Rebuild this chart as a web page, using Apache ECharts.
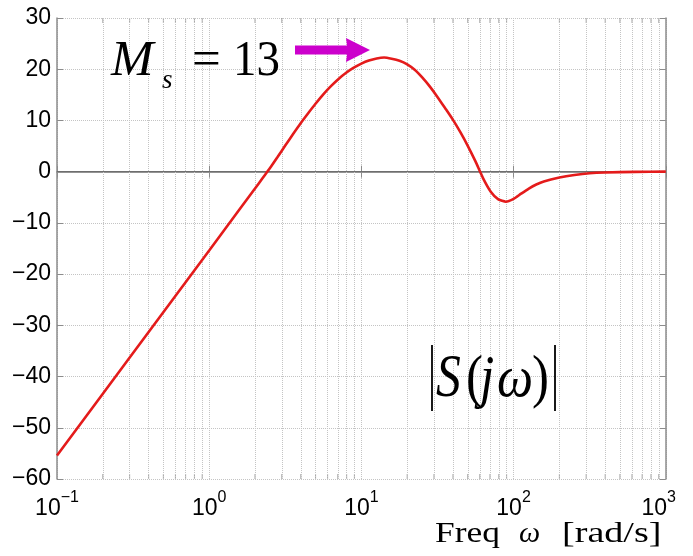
<!DOCTYPE html>
<html>
<head>
<meta charset="utf-8">
<script src="https://cdn.jsdelivr.net/npm/echarts@6/dist/echarts.min.js"></script>
<style>
  html, body { margin: 0; padding: 0; background: #ffffff; }
  #chart { width: 693px; height: 556px; }
</style>
</head>
<body>
<div id="chart"></div>
<script>
// Sensitivity function magnitude |S(jω)| in dB against frequency ω (rad/s)
const omega = [0.1, 0.316, 1, 1.58, 2.00, 2.24, 2.51, 2.82, 3.16, 3.55, 3.98, 4.47, 5.01, 5.62, 6.31, 7.08,
               7.94, 8.91, 10, 11.2, 12.6, 14.1, 15.8, 17.8, 20.0, 22.4, 25.1, 28.2, 31.6, 35.5, 39.8,
               44.7, 50.1, 56.2, 63.1, 70.8, 79.4, 89.1, 100, 112, 126, 141, 158, 200, 251, 316, 398,
               631, 1000];
const magDb = [-55.4, -35.4, -15.4, -7.4, -3.3, -1.3, 0.7, 2.9, 5.1, 7.3, 9.4, 11.4, 13.3, 15.1, 16.7, 18.1,
               19.3, 20.3, 21.1, 21.7, 22.1, 22.28, 22.05, 21.65, 20.95, 19.9, 18.4, 16.6, 14.6, 12.4, 10.2,
               7.7, 5.0, 2.0, -1.3, -3.9, -5.4, -5.86, -5.3, -4.3, -3.3, -2.5, -1.9, -1.15, -0.65, -0.3, -0.15,
               -0.05, 0.0];

const xMajorTicks = [0.1, 1, 10, 100, 1000];
const yMin = -60, yMax = 30, yStep = 10;
const peakLinear = 13;           // M_s, peak of |S| as a plain ratio (20·log10(13) ≈ 22.28 dB)

// minor log-grid positions: 2..9 within every decade
const minorFreqs = [];
for (let d = 0; d < xMajorTicks.length - 1; d++) {
  for (let k = 2; k <= 9; k++) minorFreqs.push(+(k * xMajorTicks[d]).toPrecision(3));
}

const frameColor = '#8c8c8c';
const gridColor = '#c4c4c4';
const tickFont = 'Liberation Sans';
const mathFont = 'Liberation Serif';

const chart = echarts.init(document.getElementById('chart'), null, { renderer: 'canvas' });

function expLabel(v) {
  const e = Math.round(Math.log10(v));
  const expText = e < 0 ? '\u2212' + (-e) : String(e);
  // the last decade label is nudged inward so it stays on the canvas
  return '{b|10}{' + (v >= 1000 ? 'eLast' : 'e') + '|' + expText + '}';
}

// text placed by its top edge
function txt(x, y, str, font, extra) {
  return Object.assign({
    type: 'text', x: x, y: y, z: 100,
    style: { text: str, font: font, fill: '#000', verticalAlign: 'top', align: 'left' }
  }, extra || {});
}

const baseAxisX = {
  type: 'log', logBase: 10, min: 0.1, max: 1000,
  axisLine: { show: true, lineStyle: { color: frameColor, width: 1.5 } },
  axisTick: { show: true, inside: true, length: 6, lineStyle: { color: frameColor, width: 1 } },
  minorTick: { show: false },
};
const baseAxisY = {
  type: 'value', min: yMin, max: yMax, interval: yStep,
  axisLine: { show: true, lineStyle: { color: frameColor, width: 1.5 } },
  axisTick: { show: true, inside: true, length: 6, lineStyle: { color: frameColor, width: 1 } },
};

const supStyle = { fontFamily: tickFont, fontSize: 16, color: '#000', lineHeight: 16, verticalAlign: 'top' };

const option = {
  animation: false,
  backgroundColor: '#ffffff',
  grid: { left: 57, right: 27, top: 18, bottom: 77, containLabel: false },
  xAxis: [
    Object.assign({}, baseAxisX, {
      position: 'bottom',
      splitLine: { show: true, lineStyle: { color: gridColor, type: 'dotted', width: 1 } },
      axisLabel: {
        show: true, margin: 11, formatter: expLabel,
        rich: {
          b: { fontFamily: tickFont, fontSize: 23, color: '#000', lineHeight: 30, verticalAlign: 'bottom' },
          e: supStyle,
          eLast: Object.assign({}, supStyle, { padding: [0, 14, 0, 0] })
        }
      }
    }),
    Object.assign({}, baseAxisX, {
      position: 'top',
      splitLine: { show: false },
      axisLabel: { show: false }
    })
  ],
  yAxis: [
    Object.assign({}, baseAxisY, {
      position: 'left',
      splitLine: { show: true, lineStyle: { color: gridColor, type: 'dotted', width: 1 } },
      axisLabel: {
        show: true, margin: 6, fontFamily: tickFont, fontSize: 23, color: '#000',
        formatter: v => (v < 0 ? '\u2212' + (-v) : String(v))
      }
    }),
    Object.assign({}, baseAxisY, {
      position: 'right',
      splitLine: { show: false },
      axisLabel: { show: false }
    })
  ],
  series: [
    {
      // minor grid lines and the 0 dB reference line
      type: 'line', data: [], silent: true, z: 1,
      markLine: {
        silent: true, symbol: ['none', 'none'], animation: false,
        label: { show: false },
        data: minorFreqs.map(v => ({ xAxis: v, lineStyle: { color: gridColor, type: 'dotted', width: 1 } }))
          .concat([{ yAxis: 0, lineStyle: { color: '#6e6e6e', type: 'solid', width: 1.2 } }])
      }
    },
    {
      // minor tick marks along the bottom frame
      type: 'scatter', silent: true, z: 2,
      data: minorFreqs.map(v => [v, yMin]),
      symbol: 'rect', symbolSize: [1, 5], symbolOffset: [0, -2.5],
      itemStyle: { color: frameColor }
    },
    {
      // minor tick marks along the top frame
      type: 'scatter', silent: true, z: 2,
      data: minorFreqs.map(v => [v, yMax]),
      symbol: 'rect', symbolSize: [1, 5], symbolOffset: [0, 2.5],
      itemStyle: { color: frameColor }
    },
    {
      name: '|S(jω)|',
      type: 'line', z: 5,
      data: omega.map((w, i) => [w, magDb[i]]),
      smooth: 0.2,
      showSymbol: false,
      lineStyle: { color: '#e41b1b', width: 2.6 }
    }
  ],
  graphic: [
    // M_s = 13 annotation with an arrow toward the peak
    txt(111, 36.5, 'M', 'italic 51px "' + mathFont + '"'),
    txt(162, 67.5, 's', 'italic 27px "' + mathFont + '"'),
    txt(192, 36.5, '=', '51px "' + mathFont + '"'),
    txt(233, 36.5, String(peakLinear), '51px "' + mathFont + '"', { scaleX: 0.92 }),
    { type: 'polygon', z: 100,
      shape: { points: [[295, 45.5], [347, 45.5], [346, 38], [370, 50], [346, 62], [347, 54.5], [295, 54.5]] },
      style: { fill: '#cc00cc' } },
    // |S(jω)| label
    { type: 'line', z: 100, shape: { x1: 432, y1: 345, x2: 432, y2: 411 }, style: { stroke: '#000', lineWidth: 1.8 } },
    { type: 'line', z: 100, shape: { x1: 555, y1: 345, x2: 555, y2: 411 }, style: { stroke: '#000', lineWidth: 1.8 } },
    txt(436, 349, 'S', 'italic 62px "' + mathFont + '"', { scaleX: 0.8 }),
    txt(466, 350.5, '(', '60px "' + mathFont + '"', { scaleX: 0.85 }),
    txt(480, 350.5, 'j', 'italic 60px "' + mathFont + '"', { scaleX: 0.85 }),
    txt(497, 350.5, 'ω', 'italic 60px "' + mathFont + '"', { scaleX: 0.85 }),
    txt(532, 350.5, ')', '60px "' + mathFont + '"', { scaleX: 0.85 }),
    // x-axis title
    txt(435, 519.5, 'Freq', '30px "' + mathFont + '"', { scaleX: 1.18 }),
    txt(519, 519.5, 'ω', 'italic 30px "' + mathFont + '"'),
    txt(562, 519.5, '[rad/s]', '30px "' + mathFont + '"', { scaleX: 1.27 })
  ]
};

chart.setOption(option);
</script>
</body>
</html>
